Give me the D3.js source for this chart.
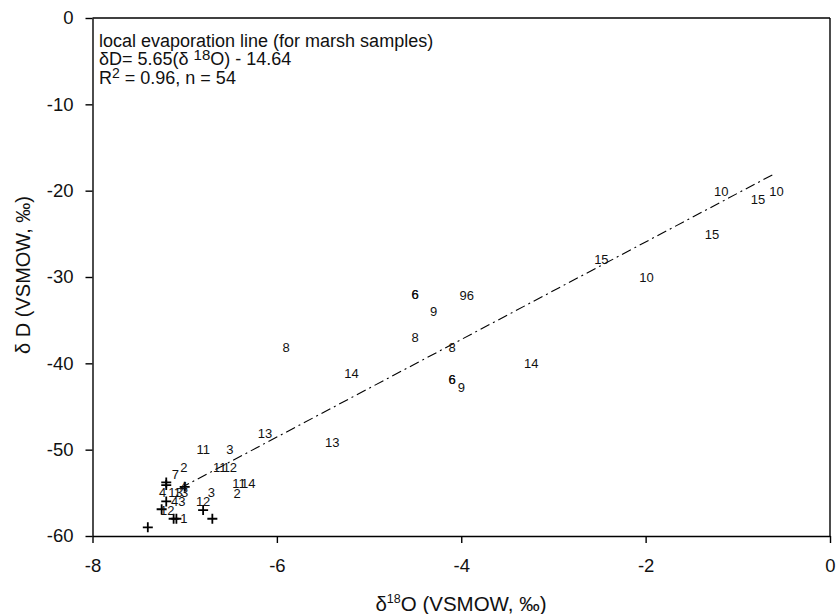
<!DOCTYPE html>
<html>
<head>
<meta charset="utf-8">
<script src="https://cdn.jsdelivr.net/npm/d3@7"></script>
<style>
  body { margin: 0; background: #fff; }
  svg { font-family: "Liberation Sans", Arial, sans-serif; }
</style>
</head>
<body>
<svg id="chart" width="837" height="614"></svg>
<script>
// sample number labels (marsh samples): label, d18O, dD
const labels = ["10", "15", "10", "15", "15", "10",
  "6", "6", "9", "6", "9", "8", "8", "14", "6", "6", "9",
  "8", "14", "13", "13",
  "11", "3", "2", "7", "11", "12", "11", "14", "2", "3", "12",
  "4", "4", "13", "13", "4", "3", "12", "1"];
const labelX = [-1.18, -0.78, -0.58, -1.28, -2.48, -1.99,
  -4.50, -4.50, -3.98, -3.90, -4.30, -4.50, -4.10, -3.24, -4.10, -4.10, -4.00,
  -5.90, -5.19, -6.13, -5.40,
  -6.80, -6.51, -7.01, -7.10, -6.62, -6.51, -6.41, -6.31, -6.43, -6.71, -6.80,
  -7.01, -7.24, -7.10, -7.04, -7.11, -7.03, -7.19, -7.01];
const labelY = [-20.1, -21.0, -20.1, -25.1, -28.0, -30.0,
  -32.0, -32.0, -32.1, -32.1, -34.0, -37.0, -38.1, -40.0, -41.8, -41.8, -42.8,
  -38.1, -41.1, -48.1, -49.1,
  -50.0, -50.0, -52.1, -52.8, -52.1, -52.1, -53.9, -53.9, -55.0, -54.9, -56.0,
  -54.2, -54.9, -54.9, -54.9, -56.0, -56.0, -57.0, -57.9];

// unlabelled samples drawn as crosses
const crossX = [-7.40, -7.12, -7.09, -6.80, -6.70, -7.20, -7.20, -7.00, -7.20, -7.25];
const crossY = [-59.0, -58.0, -58.0, -57.0, -58.0, -53.8, -54.1, -54.3, -56.0, -56.9];

// local evaporation line dD = 5.65*d18O - 14.64
const lineSlope = 5.65;
const lineIntercept = -14.64;
const lineXRange = [-7.05, -0.6];

const xTicks = [-8, -6, -4, -2, 0];
const yTicks = [-60, -50, -40, -30, -20, -10, 0];

const svg = d3.select("#chart");
const margin = { top: 18, right: 7, bottom: 78, left: 92.5 };
const W = 837, H = 614;

const x = d3.scaleLinear().domain([-8, 0]).range([margin.left, W - margin.right]);
const y = d3.scaleLinear().domain([-60, 0]).range([H - margin.bottom, margin.top]);

// axes
const gx = svg.append("g")
  .attr("transform", `translate(0,${y(-60)})`)
  .call(d3.axisBottom(x).tickValues(xTicks)
    .tickSize(7).tickSizeOuter(0).tickPadding(16));
const gy = svg.append("g")
  .attr("transform", `translate(${x(-8)},0)`)
  .call(d3.axisLeft(y).tickValues(yTicks)
    .tickSize(7).tickSizeOuter(0).tickPadding(12));

[gx, gy].forEach(g => {
  g.selectAll("path, line").attr("stroke", "#000").attr("stroke-width", 1.4);
  g.selectAll("text").attr("font-size", 18.5).attr("fill", "#111")
    .style("font-family", "'Liberation Sans', Arial, sans-serif")
    .text(d => d === 0 ? "0" : "-" + Math.abs(d));
});

// top and right frame
svg.append("line").attr("x1", x(-8)).attr("x2", x(0)).attr("y1", y(0)).attr("y2", y(0))
  .attr("stroke", "#000").attr("stroke-width", 1.4);
svg.append("line").attr("x1", x(0)).attr("x2", x(0)).attr("y1", y(0)).attr("y2", y(-60))
  .attr("stroke", "#000").attr("stroke-width", 1.4);

// evaporation line
svg.append("path")
  .datum(lineXRange)
  .attr("d", d3.line().x(d => x(d)).y(d => y(lineSlope * d + lineIntercept)))
  .attr("fill", "none")
  .attr("stroke", "#000")
  .attr("stroke-width", 1.1)
  .attr("stroke-dasharray", "10,4,2,4");

// crosses
const cs = 5;
svg.append("g").selectAll("path")
  .data(crossX)
  .join("path")
  .attr("d", (d, i) => {
    const cx = x(d), cy = y(crossY[i]);
    return `M${cx - cs},${cy}H${cx + cs}M${cx},${cy - cs}V${cy + cs}`;
  })
  .attr("stroke", "#000")
  .attr("stroke-width", 1.8);

// sample labels
svg.append("g").selectAll("text")
  .data(labels)
  .join("text")
  .attr("x", (d, i) => x(labelX[i]))
  .attr("y", (d, i) => y(labelY[i]))
  .attr("dy", "0.36em")
  .attr("text-anchor", "middle")
  .attr("font-size", 13)
  .attr("fill", "#111")
  .text(d => d);

// annotation
const ann = svg.append("g").attr("font-size", 18).attr("fill", "#111");
ann.append("text").attr("x", 99).attr("y", 46.5).text("local evaporation line (for marsh samples)");
const l2 = ann.append("text").attr("x", 99).attr("y", 65);
l2.append("tspan").text("δD= 5.65(δ ");
l2.append("tspan").attr("dy", -5).attr("font-size", 15).text("18");
l2.append("tspan").attr("dy", 5).text("O) - 14.64");
const l3 = ann.append("text").attr("x", 99).attr("y", 83.5);
l3.append("tspan").text("R");
l3.append("tspan").attr("dy", -6).attr("font-size", 14).text("2");
l3.append("tspan").attr("dy", 6).text(" = 0.96, n = 54");

// axis titles
const xt = svg.append("text")
  .attr("x", 461).attr("y", 611)
  .attr("text-anchor", "middle")
  .attr("font-size", 20.5)
  .attr("fill", "#111");
xt.append("tspan").text("δ");
xt.append("tspan").attr("dy", -8).attr("font-size", 12.5).text("18");
xt.append("tspan").attr("dy", 8).text("O (VSMOW, ‰)");

svg.append("text")
  .attr("transform", "translate(30,275) rotate(-90)")
  .attr("text-anchor", "middle")
  .attr("font-size", 20)
  .attr("fill", "#111")
  .text("δ D (VSMOW, ‰)");
</script>
</body>
</html>
